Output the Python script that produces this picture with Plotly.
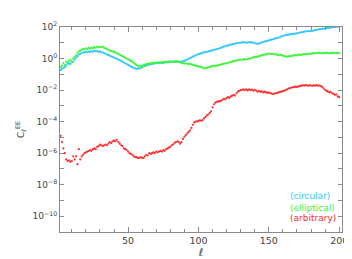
import plotly.graph_objects as go

# multipole ell values 2..200
ell = list(range(2, 201))

# log10 of C_ell^EE
circular_log10 = [
    -0.72, -0.65, -0.6, -0.55, -0.45, -0.35, -0.3, -0.35, -0.25, -0.2,
    -0.05, 0.05, 0.15, 0.25, 0.3, 0.35, 0.4, 0.38, 0.42, 0.4,
    0.45, 0.42, 0.46, 0.44, 0.5, 0.45, 0.48, 0.42, 0.45, 0.4,
    0.38, 0.35, 0.3, 0.25, 0.22, 0.18, 0.14, 0.1, 0.06, 0.02,
    -0.02, -0.06, -0.1, -0.15, -0.2, -0.25, -0.3, -0.35, -0.4, -0.45,
    -0.5, -0.55, -0.6, -0.63, -0.65, -0.64, -0.62, -0.6, -0.55, -0.5,
    -0.47, -0.44, -0.4, -0.38, -0.36, -0.34, -0.32, -0.31, -0.3, -0.28,
    -0.3, -0.27, -0.26, -0.28, -0.25, -0.24, -0.22, -0.23, -0.21, -0.2,
    -0.22, -0.2, -0.18, -0.2, -0.19, -0.21, -0.2, -0.18, -0.15, -0.1,
    -0.06, -0.02, 0.03, 0.08, 0.12, 0.16, 0.2, 0.24, 0.28, 0.31,
    0.34, 0.37, 0.39, 0.41, 0.43, 0.45, 0.48, 0.5, 0.52, 0.55,
    0.57, 0.6, 0.62, 0.65, 0.68, 0.72, 0.75, 0.78, 0.8, 0.83,
    0.86, 0.88, 0.9, 0.92, 0.95, 0.97, 0.98, 1.0, 1.0, 1.02,
    1.03, 1.02, 1.0, 1.02, 1.03, 1.04, 1.02, 1.0, 0.97, 0.95,
    0.93, 0.95, 0.98, 1.02, 1.05, 1.08, 1.1, 1.12, 1.15, 1.18,
    1.2, 1.22, 1.25, 1.28, 1.3, 1.33, 1.36, 1.4, 1.43, 1.46,
    1.48, 1.5, 1.52, 1.53, 1.55, 1.56, 1.57, 1.58, 1.6, 1.62,
    1.64, 1.66, 1.68, 1.7, 1.72, 1.73, 1.74, 1.73, 1.75, 1.76,
    1.78, 1.8, 1.82, 1.84, 1.86, 1.87, 1.88, 1.9, 1.91, 1.93,
    1.94, 1.95, 1.96, 1.98, 2.0, 2.01, 2.02, 2.03, 2.04,
]

elliptical_log10 = [
    -0.55, -0.45, -0.3, -0.4, -0.2, -0.25, -0.15, -0.1, -0.2, 0.0,
    0.1, 0.2, 0.35, 0.45, 0.5, 0.55, 0.6, 0.58, 0.65, 0.6,
    0.68, 0.62, 0.7, 0.65, 0.72, 0.68, 0.75, 0.7, 0.74, 0.72,
    0.75, 0.68, 0.65, 0.6, 0.55, 0.5, 0.47, 0.45, 0.42, 0.38,
    0.35, 0.3, 0.25, 0.2, 0.15, 0.1, 0.05, 0.0, -0.05, -0.1,
    -0.15, -0.2, -0.28, -0.35, -0.42, -0.45, -0.5, -0.45, -0.48, -0.42,
    -0.38, -0.35, -0.33, -0.3, -0.32, -0.28, -0.3, -0.27, -0.25, -0.28,
    -0.24, -0.26, -0.22, -0.25, -0.2, -0.22, -0.25, -0.2, -0.18, -0.22,
    -0.19, -0.2, -0.17, -0.22, -0.2, -0.25, -0.27, -0.3, -0.32, -0.3,
    -0.33, -0.35, -0.34, -0.37, -0.4, -0.42, -0.45, -0.48, -0.5, -0.52,
    -0.55, -0.58, -0.62, -0.6, -0.58, -0.55, -0.52, -0.5, -0.47, -0.45,
    -0.48, -0.45, -0.42, -0.4, -0.38, -0.36, -0.33, -0.32, -0.3, -0.27,
    -0.25, -0.22, -0.18, -0.15, -0.13, -0.14, -0.1, -0.08, -0.06, -0.08,
    -0.04, -0.05, -0.06, -0.03, -0.01, 0.0, 0.05, 0.08, 0.1, 0.12,
    0.1, 0.15, 0.18, 0.2, 0.22, 0.25, 0.28, 0.3, 0.32, 0.3,
    0.28, 0.3, 0.25, 0.28, 0.22, 0.2, 0.25, 0.22, 0.18, 0.15,
    0.13, 0.12, 0.14, 0.15, 0.17, 0.18, 0.2, 0.22, 0.2, 0.23,
    0.25, 0.22, 0.26, 0.28, 0.25, 0.3, 0.28, 0.32, 0.3, 0.33,
    0.35, 0.32, 0.36, 0.34, 0.38, 0.35, 0.33, 0.36, 0.34, 0.37,
    0.35, 0.33, 0.36, 0.34, 0.37, 0.35, 0.34, 0.36, 0.35,
]

arbitrary_log10 = [
    -4.9, -5.3, -5.7, -6.0, -6.4, -6.5, -6.45, -6.55, -6.5, -6.2,
    -6.4, -6.2, -6.7, -5.75, -6.4, -6.2, -6.1, -6.0, -5.95, -5.9,
    -5.85, -5.8, -5.85, -5.75, -5.7, -5.75, -5.6, -5.55, -5.45, -5.5,
    -5.55, -5.5, -5.45, -5.5, -5.4, -5.3, -5.35, -5.25, -5.2, -5.25,
    -5.15, -5.3, -5.4, -5.5, -5.55, -5.7, -5.75, -5.8, -5.9, -6.0,
    -6.05, -6.1, -6.2, -6.25, -6.25, -6.3, -6.3, -6.25, -6.3, -6.3,
    -6.2, -6.1, -6.15, -6.0, -6.05, -6.0, -5.95, -6.0, -5.9, -5.95,
    -5.9, -5.85, -5.9, -5.8, -5.85, -5.75, -5.7, -5.65, -5.6, -5.5,
    -5.45, -5.35, -5.3, -5.25, -5.3, -5.4, -5.3, -5.1, -4.95, -4.85,
    -4.75, -4.65, -4.55, -4.4, -4.2, -4.05, -4.0, -3.98, -3.95, -3.92,
    -3.95, -3.9, -3.8, -3.7, -3.6, -3.55, -3.45, -3.35, -3.1, -2.9,
    -2.8, -2.75, -2.72, -2.7, -2.68, -2.62, -2.55, -2.58, -2.5, -2.45,
    -2.5, -2.4, -2.35, -2.3, -2.35, -2.2, -2.1, -2.05, -2.0, -1.98,
    -1.95, -2.0, -1.96, -2.02, -1.95, -2.0, -1.97, -2.05, -1.98, -2.03,
    -2.1, -2.05, -2.12, -2.08, -2.15, -2.1, -2.13, -2.18, -2.15, -2.2,
    -2.22, -2.25, -2.22, -2.2, -2.18, -2.15, -2.12, -2.1, -2.07, -2.03,
    -2.0, -1.95, -1.9, -1.87, -1.85, -1.82, -1.8, -1.78, -1.8, -1.76,
    -1.75, -1.72, -1.7, -1.72, -1.68, -1.7, -1.72, -1.7, -1.71, -1.73,
    -1.7, -1.72, -1.68, -1.72, -1.71, -1.74, -1.8, -1.9, -2.0, -2.05,
    -2.1, -2.15, -2.12, -2.2, -2.25, -2.3, -2.28, -2.4, -2.45,
]

series_names = ["(circular)", "(elliptical)", "(arbitrary)"]
series_colors = ["#33c6ff", "#3cf53c", "#ff2d2d"]

x_tickvals = [50, 100, 150, 200]
y_exponents = list(range(2, -12, -1))
y_tickvals = [10.0 ** e for e in y_exponents]
y_ticktext = [("10<sup>%s</sup>" % (str(e).replace("-", "\u2212")) if e % 2 == 0 else "") for e in y_exponents]

# plot-area geometry in pixels
W, H = 352, 259
L, R, T, B = 52, 336, 16, 226

fig = go.Figure()
for name, vals, col in zip(series_names,
                           [circular_log10, elliptical_log10, arbitrary_log10],
                           series_colors):
    fig.add_trace(go.Scatter(
        x=ell, y=[10.0 ** v for v in vals], mode="markers", name=name,
        marker=dict(color=col, size=2.2, symbol="circle", line=dict(width=0)),
        showlegend=False,
    ))

# coloured series labels (lower right)
label_px_y = [189, 201, 212]
for name, col, py in zip(series_names, series_colors, label_px_y):
    fig.add_annotation(
        x=(283 - L) / (R - L), y=(B - py) / (B - T), xref="paper", yref="paper",
        text=name, showarrow=False, xanchor="left", yanchor="middle",
        borderpad=0, font=dict(color=col, size=9, family="DejaVu Sans"),
    )

axis_col = "#8a8a8a"
fig.update_layout(
    width=W, height=H,
    margin=dict(l=L, r=W - R, t=T, b=H - B),
    paper_bgcolor="white", plot_bgcolor="white",
    font=dict(family="DejaVu Sans", size=9, color="#444"),
    xaxis=dict(
        range=[1.6, 202], tickvals=x_tickvals, ticks="inside", ticklen=5,
        tickcolor=axis_col, linecolor=axis_col, linewidth=1, mirror="allticks",
        showline=True, showgrid=False, zeroline=False,
        minor=dict(dtick=10, ticks="inside", ticklen=3, tickcolor=axis_col, showgrid=False),
        title=dict(text="<i>ℓ</i>", standoff=1, font=dict(size=11)),
        tickfont=dict(size=9.5),
    ),
    yaxis=dict(
        type="log", range=[-11, 2], tickvals=y_tickvals, ticktext=y_ticktext,
        ticks="inside", ticklen=4, tickcolor=axis_col, linecolor=axis_col,
        linewidth=1, mirror="allticks", showline=True, showgrid=False,
        zeroline=False,
        title=dict(text="C<sub><i>ℓ</i></sub><sup>EE</sup>", standoff=6, font=dict(size=9)),
        tickfont=dict(size=9),
    ),
)

fig.write_html("out.html")
